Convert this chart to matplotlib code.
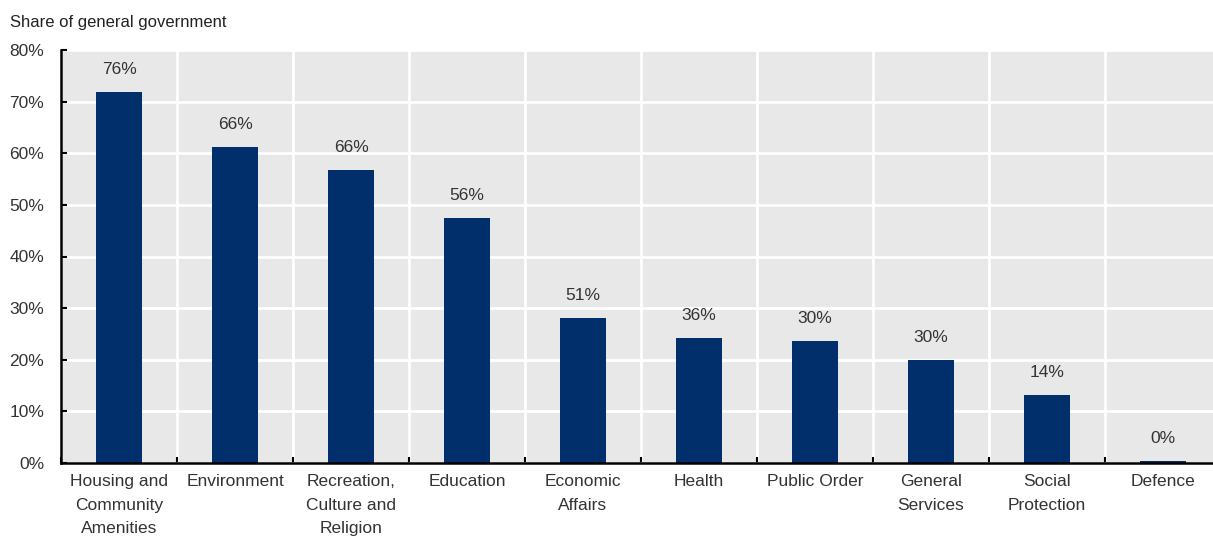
import matplotlib
matplotlib.use("Agg")
import matplotlib.pyplot as plt
import numpy as np

plt.rcParams['font.family'] = ['Liberation Sans', 'DejaVu Sans']

categories = ["Housing and\nCommunity\nAmenities", "Environment", "Recreation,\nCulture and\nReligion",
              "Education", "Economic\nAffairs", "Health", "Public Order", "General\nServices",
              "Social\nProtection", "Defence"]
bar_values = [71.9, 61.2, 56.8, 47.5, 28.1, 24.2, 23.6, 20.0, 13.2, 0.4]
label_texts = ["76%", "66%", "66%", "56%", "51%", "36%", "30%", "30%", "14%", "0%"]
yticks = [0, 10, 20, 30, 40, 50, 60, 70, 80]

W, H = 1213, 536
fig = plt.figure(figsize=(W / 100, H / 100), dpi=100)
left, right, top, bottom = 61, 1221, 50, 463
ax = fig.add_axes([left / W, (H - bottom) / H, (right - left) / W, (bottom - top) / H])
ax.set_facecolor('#e8e8e8')

x = np.arange(len(categories))
ax.bar(x, bar_values, width=0.4, color='#002F6C', zorder=3)
for xi, v, t in zip(x, bar_values, label_texts):
    ax.annotate(t, (xi, v), xytext=(0, 16), textcoords='offset points',
                ha='center', va='center', fontsize=12.5, color='#333333', zorder=4)

ax.set_xlim(-0.5, len(categories) - 0.5)
ax.set_ylim(0, 80)
ax.set_yticks(yticks)
ax.set_yticklabels([f"{v}%" for v in yticks], fontsize=12.5, color='#333333')
ax.set_xticks(x)
ax.set_xticklabels(categories, fontsize=12.5, color='#333333', linespacing=1.7, va='top')
ax.set_xticks(np.arange(len(categories) + 1) - 0.5, minor=True)
ax.tick_params(axis='x', which='major', length=0, pad=8)
ax.tick_params(axis='x', which='minor', direction='in', length=4, width=1.5, color='black')
ax.tick_params(axis='y', direction='in', length=4, width=1.5, color='black', pad=12)

ax.grid(True, axis='y', color='white', linewidth=2, zorder=1)
ax.grid(True, axis='x', which='minor', color='white', linewidth=2, zorder=1)
ax.set_axisbelow(True)

for s in ['top', 'right']:
    ax.spines[s].set_visible(False)
for s in ['left', 'bottom']:
    ax.spines[s].set_color('black')
    ax.spines[s].set_linewidth(1.8)
    ax.spines[s].set_zorder(5)

fig.text(10 / W, 1 - 22 / H, "Share of general government", fontsize=12, color='#222222',
         ha='left', va='center')

fig.savefig("out.png", dpi=100)
